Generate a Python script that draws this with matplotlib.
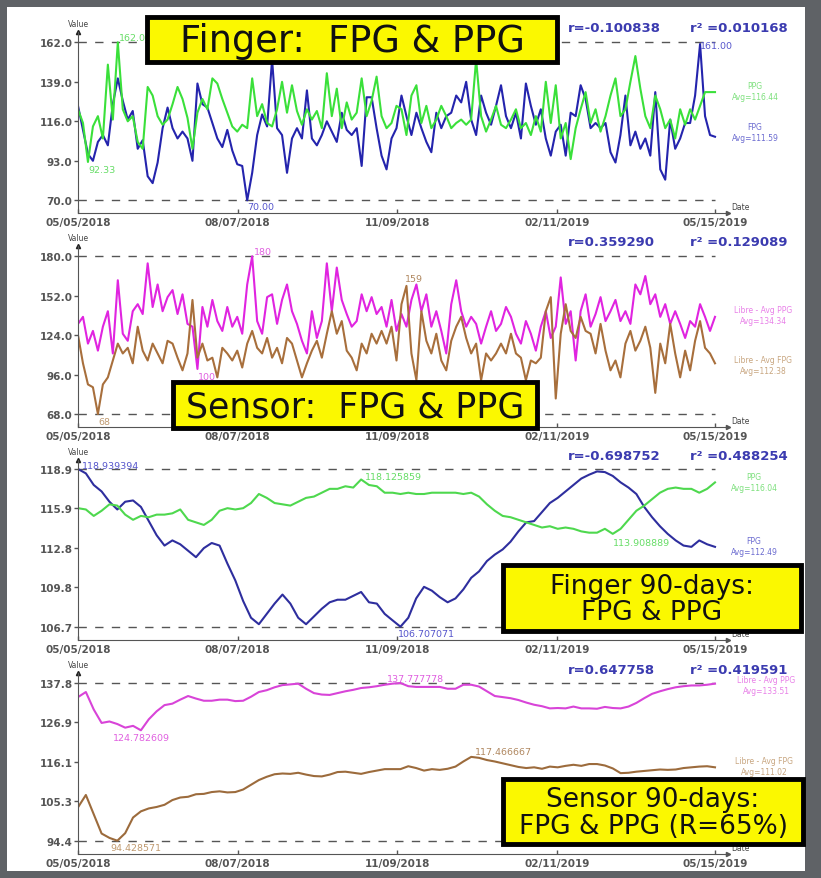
import numpy as np
import pandas as pd
import matplotlib
matplotlib.use("Agg")
import matplotlib.pyplot as plt
from matplotlib.patches import Rectangle

plt.rcParams['font.family'] = ['DejaVu Sans']

W, H = 821, 879
start = pd.Timestamp("2018-05-05")
end = pd.Timestamp("2019-05-15")
tick_dates = pd.to_datetime(["2018-05-05", "2018-08-07", "2018-11-09",
                             "2019-02-11", "2019-05-15"])

# finger stick readings (mg/dL)
finger_fpg = [125, 111, 97, 93, 104, 108, 102, 126, 141, 128,
              117, 122, 100, 105, 84, 80, 92, 112, 124, 112,
              106, 110, 106, 93, 138, 126, 124, 115, 106, 101,
              111, 99, 91, 90, 70, 86, 108, 120, 113, 152,
              112, 108, 86, 106, 112, 106, 134, 106, 102, 108,
              116, 110, 104, 121, 111, 108, 112, 90, 130, 130,
              112, 96,
              88, 106, 112, 131, 119, 108, 121, 112, 104, 98,
              121, 112, 119, 121, 131, 127, 139, 117, 108, 131,
              121, 114, 125, 137, 119, 112, 121, 106, 138, 125,
              114, 123, 106, 96, 110, 114, 96, 121, 119, 137,
              129, 112, 115, 112, 115, 98, 92, 108, 131, 102,
              110, 100, 106, 96, 133, 88, 82, 117, 100, 106,
              115, 115, 131, 161, 119, 108, 107]
finger_ppg = [123, 115, 92.33, 113, 119, 106, 149, 117, 162, 123,
              116, 119, 104, 100, 136, 131, 119, 114, 117, 126,
              136, 129, 118, 100, 121, 129, 123, 141, 138, 129,
              121, 113, 110, 114, 112, 141, 119, 126, 115, 113,
              123, 139, 121, 137, 122, 114, 123, 117, 122, 112,
              144, 119, 135, 112, 127, 117, 121, 141, 119, 128,
              142, 119,
              112, 115, 125, 123, 108, 131, 137, 115, 125, 112,
              117, 125, 119, 112, 115, 117, 114, 117, 152, 119,
              110, 117, 125, 114, 112, 117, 123, 112, 115, 108,
              119, 110, 139, 115, 137, 106, 115, 94, 112, 123,
              133, 115, 123, 110, 119, 131, 141, 119, 123, 139,
              154, 135, 119, 112, 131, 123, 112, 117, 106, 123,
              114, 123, 117, 125, 133, 133, 133]

# Libre sensor readings
sensor_ppg = [132, 137, 118, 127, 113, 130, 141, 111, 163, 125,
              120, 141, 146, 139, 175, 144, 160, 141, 151, 156,
              139, 153, 132, 130, 100, 144, 130, 149, 134, 127,
              144, 130, 137, 125, 160, 180, 134, 125, 151, 153,
              132, 149, 160, 141, 132, 120, 111, 141, 122, 134,
              175, 141, 172, 149, 139, 130, 134, 153, 141, 151,
              139, 144,
              130, 149, 127, 139, 130, 149, 160, 141, 153, 130,
              141, 127, 111, 146, 163, 141, 130, 137, 132, 118,
              130, 141, 127, 132, 144, 137, 125, 118, 134, 125,
              113, 130, 141, 122, 130, 165, 132, 141, 106, 141,
              153, 130, 139, 151, 134, 141, 149, 134, 141, 132,
              160, 153, 166, 146, 153, 137, 146, 132, 141, 132,
              122, 134, 130, 146, 137, 127, 137]
sensor_fpg = [124, 104, 89, 87, 68, 89, 94, 106, 118, 111,
              115, 104, 130, 113, 106, 118, 111, 104, 120, 118,
              108, 99, 111, 149, 108, 118, 106, 108, 94, 115,
              111, 106, 113, 101, 118, 127, 115, 111, 122, 108,
              115, 104, 122, 118, 106, 94, 104, 113, 120, 108,
              125, 141, 125, 134, 113, 108, 99, 118, 111, 125,
              118, 127,
              118, 130, 106, 146, 159, 111, 92, 141, 120, 111,
              125, 106, 99, 120, 130, 137, 122, 111, 118, 92,
              111, 106, 111, 118, 111, 125, 111, 108, 92, 106,
              104, 108, 141, 151, 79, 125, 146, 127, 122, 137,
              127, 125, 111, 132, 113, 99, 106, 94, 118, 127,
              113, 120, 130, 115, 83, 118, 104, 132, 111, 94,
              113, 99, 120, 134, 115, 111, 104]

# 90-day rolling averages
finger90_fpg = [118.939394, 118.6, 117.7, 117.2, 116.4, 115.8, 116.4, 116.5, 116.0, 114.9,
                113.8, 113.0, 113.4, 113.1, 112.6, 112.1, 112.8, 113.2, 113.0, 111.6,
                110.3, 108.7, 107.4, 106.9, 107.7, 108.5, 109.2, 108.5, 107.4, 106.9,
                107.5, 108.1, 108.6, 108.8, 108.8, 109.1, 109.4, 108.6, 108.5, 107.7,
                107.2, 106.707071, 107.4, 108.9, 109.8, 109.5, 109.0, 108.6, 108.9, 109.6,
                110.5, 111.0, 111.8, 112.3, 112.7, 113.3, 114.1, 114.8, 114.9, 115.6,
                116.3, 116.7, 117.2, 117.7, 118.2, 118.5, 118.75, 118.7, 118.4, 117.9,
                117.5, 117.0, 116.0, 115.2, 114.5, 113.9, 113.4, 113.0, 112.9, 113.4,
                113.1, 112.9]
finger90_ppg = [115.9, 115.8, 115.3, 115.7, 116.2, 116.1, 115.4, 115.0, 115.3, 115.2,
                115.4, 115.4, 115.5, 115.8, 115.0, 114.8, 114.6, 115.0, 115.7, 115.9,
                115.8, 115.9, 116.3, 117.0, 116.7, 116.3, 116.2, 116.1, 116.4, 116.7,
                116.8, 117.1, 117.4, 117.4, 117.6, 117.5, 118.125859, 117.7, 117.6, 117.1,
                117.1, 117.0, 117.1, 117.0, 117.0, 117.1, 117.1, 117.1, 117.1, 117.0,
                117.1, 116.8, 116.2, 115.7, 115.3, 115.2, 115.0, 114.8, 114.6, 114.4,
                114.5, 114.3, 114.4, 114.3, 114.1, 114.0, 114.0, 114.3, 113.908889, 114.3,
                115.0, 115.7, 116.1, 116.6, 117.1, 117.4, 117.5, 117.4, 117.4, 117.1,
                117.4, 117.9]
sensor90_ppg = [133.9, 135.3, 130.5, 126.8, 127.2, 126.5, 125.5, 126.0, 124.782609, 127.8,
                130.0, 131.7, 132.1, 133.2, 134.2, 133.5, 132.9, 132.9, 133.2, 133.2,
                132.8, 132.9, 134.0, 135.3, 135.8, 136.6, 137.2, 137.4, 137.6, 136.2,
                135.0, 134.6, 134.5, 135.0, 135.5, 135.9, 136.4, 136.6, 136.9, 137.3,
                137.6, 137.777778, 136.9, 136.7, 136.7, 136.7, 136.7, 136.2, 136.2, 137.3,
                137.3, 136.8, 135.5, 134.2, 133.9, 133.6, 133.1, 132.4, 131.8, 131.4,
                130.8, 130.9, 130.8, 131.3, 130.8, 130.8, 130.7, 131.2, 130.9, 130.8,
                131.3, 132.3, 133.6, 134.8, 135.5, 136.1, 136.6, 136.9, 137.1, 137.1,
                137.3, 137.6]
sensor90_fpg = [103.6, 107.0, 101.7, 96.4, 95.2, 94.428571, 96.5, 100.8, 102.5, 103.3,
                103.7, 104.3, 105.6, 106.3, 106.5, 107.2, 107.3, 107.8, 108.0, 107.7,
                107.8, 108.5, 109.8, 111.1, 112.0, 112.7, 112.9, 112.8, 113.1, 112.6,
                112.2, 112.1, 112.6, 113.3, 113.4, 113.1, 112.8, 113.3, 113.7, 114.1,
                114.1, 114.1, 114.9, 114.4, 113.7, 114.1, 113.9, 114.2, 114.8, 116.2,
                117.466667, 117.2, 116.6, 116.2, 115.7, 115.2, 114.7, 114.4, 114.6, 114.2,
                114.8, 114.6, 115.0, 115.3, 115.0, 115.5, 115.5, 115.1, 114.3, 113.0,
                113.1, 113.4, 113.6, 113.8, 114.0, 113.9, 114.0, 114.4, 114.6, 114.8,
                114.9, 114.6]

fig = plt.figure(figsize=(W / 100, H / 100), dpi=100)
fig.patch.set_facecolor('#5f6266')
fig.add_artist(Rectangle((7 / W, 1 - 872 / H), (805 - 7) / W, (872 - 8) / H,
                         transform=fig.transFigure, facecolor='white',
                         edgecolor='none', zorder=0))

X0, X1, XEND = 78, 728, 715
DAY_PX = (XEND - X0) / (end - start).days


def ftext(x, y, s, **kw):
    return fig.text(x / W, 1 - y / H, s, **kw)


def panel(series, top, bottom, hi_px, lo_px, r_txt, r2_txt):
    lo = min(min(v) for v, _ in series)
    hi = max(max(v) for v, _ in series)
    ax = fig.add_axes([X0 / W, 1 - bottom / H, (X1 - X0) / W, (bottom - top) / H])
    ax.set_facecolor('none')
    k = (hi - lo) / (lo_px - hi_px)
    ax.set_ylim(lo - (bottom - lo_px) * k, hi + (hi_px - top) * k)
    ax.set_xlim(start, start + pd.Timedelta(days=(X1 - X0) / DAY_PX))

    for vals, col in series:
        dates = pd.date_range(start, end, periods=len(vals))
        ax.plot(dates, vals, color=col, lw=1.5, solid_joinstyle='round')

    ticks = np.linspace(lo, hi, 5)
    ax.set_yticks(ticks)
    ax.set_yticklabels([f'{t:.1f}' for t in ticks])
    ax.set_xticks(tick_dates)
    ax.set_xticklabels([d.strftime('%m/%d/%Y') for d in tick_dates])
    ax.tick_params(axis='y', length=3, width=1, color='#555', pad=1)
    ax.tick_params(axis='x', direction='in', length=3, width=1, color='#555', pad=3)
    for lab in ax.get_xticklabels() + ax.get_yticklabels():
        lab.set_fontsize(7.5)
        lab.set_fontweight('bold')
        lab.set_color('#555555')
    for s in ['top', 'right']:
        ax.spines[s].set_visible(False)
    for s in ['left', 'bottom']:
        ax.spines[s].set_color('#555')
    ax.plot(1, 0, '>', transform=ax.transAxes, clip_on=False, color='#555', ms=3)
    ax.plot(0, 1, '^', transform=ax.transAxes, clip_on=False, color='#222', ms=3)
    ax.text(0, 1.02, 'Value', transform=ax.transAxes, ha='center', va='bottom',
            fontsize=5.5, color='#444')
    ax.text(1.005, 0.01, 'Date', transform=ax.transAxes, ha='left', va='bottom',
            fontsize=5.5, color='#444')

    frac = (XEND - X0) / (X1 - X0)
    for v in (lo, hi):
        ax.axhline(v, xmax=frac, color='#555', lw=1, ls=(0, (6, 6)), zorder=0)

    ftext(568, top - 4, r_txt, fontsize=9.5, fontweight='bold', color='#3b3bb0', va='center')
    ftext(690, top - 4, r2_txt, fontsize=9.5, fontweight='bold', color='#3b3bb0', va='center')
    return ax


def mark(ax, vals, which, fmt, col, dx, dy, ha='left', va='bottom'):
    dates = pd.date_range(start, end, periods=len(vals))
    i = int(np.argmax(vals)) if which == 'max' else int(np.argmin(vals))
    ax.annotate(fmt.format(vals[i]), xy=(dates[i], vals[i]), xytext=(dx, dy),
                textcoords='offset points', fontsize=6.8, color=col, ha=ha, va=va,
                annotation_clip=False)


def side_label(x, y, lines, col):
    ftext(x, y, lines, fontsize=5.5, color=col, ha='center', va='center',
          linespacing=1.25)


def banner(x0, y0, x1, y1, txt, size, spacing=1.15):
    fig.add_artist(Rectangle((x0 / W, 1 - y1 / H), (x1 - x0) / W, (y1 - y0) / H,
                             transform=fig.transFigure, facecolor='#fbf800',
                             edgecolor='black', lw=3.5, zorder=5))
    t = ftext((x0 + x1) / 2, (y0 + y1) / 2 + 1, txt, fontsize=size, ha='center',
              va='center', color='#111', linespacing=spacing)
    t.set_zorder(6)


BLUE, GREEN = '#2424ad', '#3ae03a'
MAG, BROWN = '#e024e0', '#a86f3c'

# Finger: daily
ax1 = panel([(finger_fpg, BLUE), (finger_ppg, GREEN)], 33, 214, 43.3, 201.3,
            'r=-0.100838', 'r\u00b2 =0.010168')
mark(ax1, finger_ppg, 'max', '{:.2f}', '#66dd66', 1, 0)
mark(ax1, finger_ppg, 'min', '{:.2f}', '#66dd66', 0, -2, va='top')
mark(ax1, finger_fpg, 'min', '{:.2f}', '#5555cc', 0, -1, va='top')
mark(ax1, finger_fpg, 'max', '{:.2f}', '#5555cc', 0, -1, va='center')
side_label(755, 92, 'PPG\nAvg=116.44', '#7de07d')
side_label(755, 133, 'FPG\nAvg=111.59', '#6b6bd0')

# Sensor: daily
ax2 = panel([(sensor_ppg, MAG), (sensor_fpg, BROWN)], 247, 428, 257.3, 415,
            'r=0.359290', 'r\u00b2 =0.129089')
mark(ax2, sensor_ppg, 'max', '{:.0f}', '#e060e0', 1, 0)
mark(ax2, sensor_ppg, 'min', '{:.0f}', '#e060e0', 0, -2, va='top')
mark(ax2, sensor_fpg, 'min', '{:.0f}', '#c09a70', 0, -2, va='top')
mark(ax2, sensor_fpg, 'max', '{:.0f}', '#b08860', -1, 2)
side_label(763, 316, 'Libre - Avg PPG\nAvg=134.34', '#e880e8')
side_label(763, 366, 'Libre - Avg FPG\nAvg=112.38', '#c8a680')

# Finger: 90-day averages
ax3 = panel([(finger90_fpg, '#2e2e9e'), (finger90_ppg, '#4ed84e')], 461, 641, 470, 627.7,
            'r=-0.698752', 'r\u00b2 =0.488254')
mark(ax3, finger90_fpg, 'max', '{:.6f}', '#5555cc', 3, -1)
mark(ax3, finger90_ppg, 'max', '{:.6f}', '#66dd66', 3, -1)
mark(ax3, finger90_fpg, 'min', '{:.6f}', '#5555cc', -2, -2, va='top')
mark(ax3, finger90_ppg, 'min', '{:.6f}', '#66dd66', 0, -3, va='top')
side_label(754, 483, 'PPG\nAvg=116.04', '#7de07d')
side_label(754, 547, 'FPG\nAvg=112.49', '#6b6bd0')

# Sensor: 90-day averages
ax4 = panel([(sensor90_ppg, '#d844d8'), (sensor90_fpg, '#9c6b3c')], 674, 855, 684, 841.7,
            'r=0.647758', 'r\u00b2 =0.419591')
mark(ax4, sensor90_ppg, 'max', '{:.6f}', '#e060e0', -10, 0)
mark(ax4, sensor90_ppg, 'min', '{:.6f}', '#e060e0', -20, -2, va='top')
mark(ax4, sensor90_fpg, 'max', '{:.6f}', '#b08860', 3, 1)
mark(ax4, sensor90_fpg, 'min', '{:.6f}', '#c09a70', -5, -2, va='top')
side_label(766, 686, 'Libre - Avg PPG\nAvg=133.51', '#e880e8')
side_label(764, 767, 'Libre - Avg FPG\nAvg=111.02', '#c8a680')

banner(147, 18, 557, 63, 'Finger:  FPG & PPG', 26.5)
banner(173, 383, 537, 429, 'Sensor:  FPG & PPG', 25)
banner(503, 566, 801, 632, 'Finger 90-days:\nFPG & PPG', 19, 1.05)
banner(503, 780, 803, 845, 'Sensor 90-days:\nFPG & PPG (R=65%)', 19, 1.05)

fig.savefig('out.png', dpi=100, facecolor=fig.get_facecolor())
